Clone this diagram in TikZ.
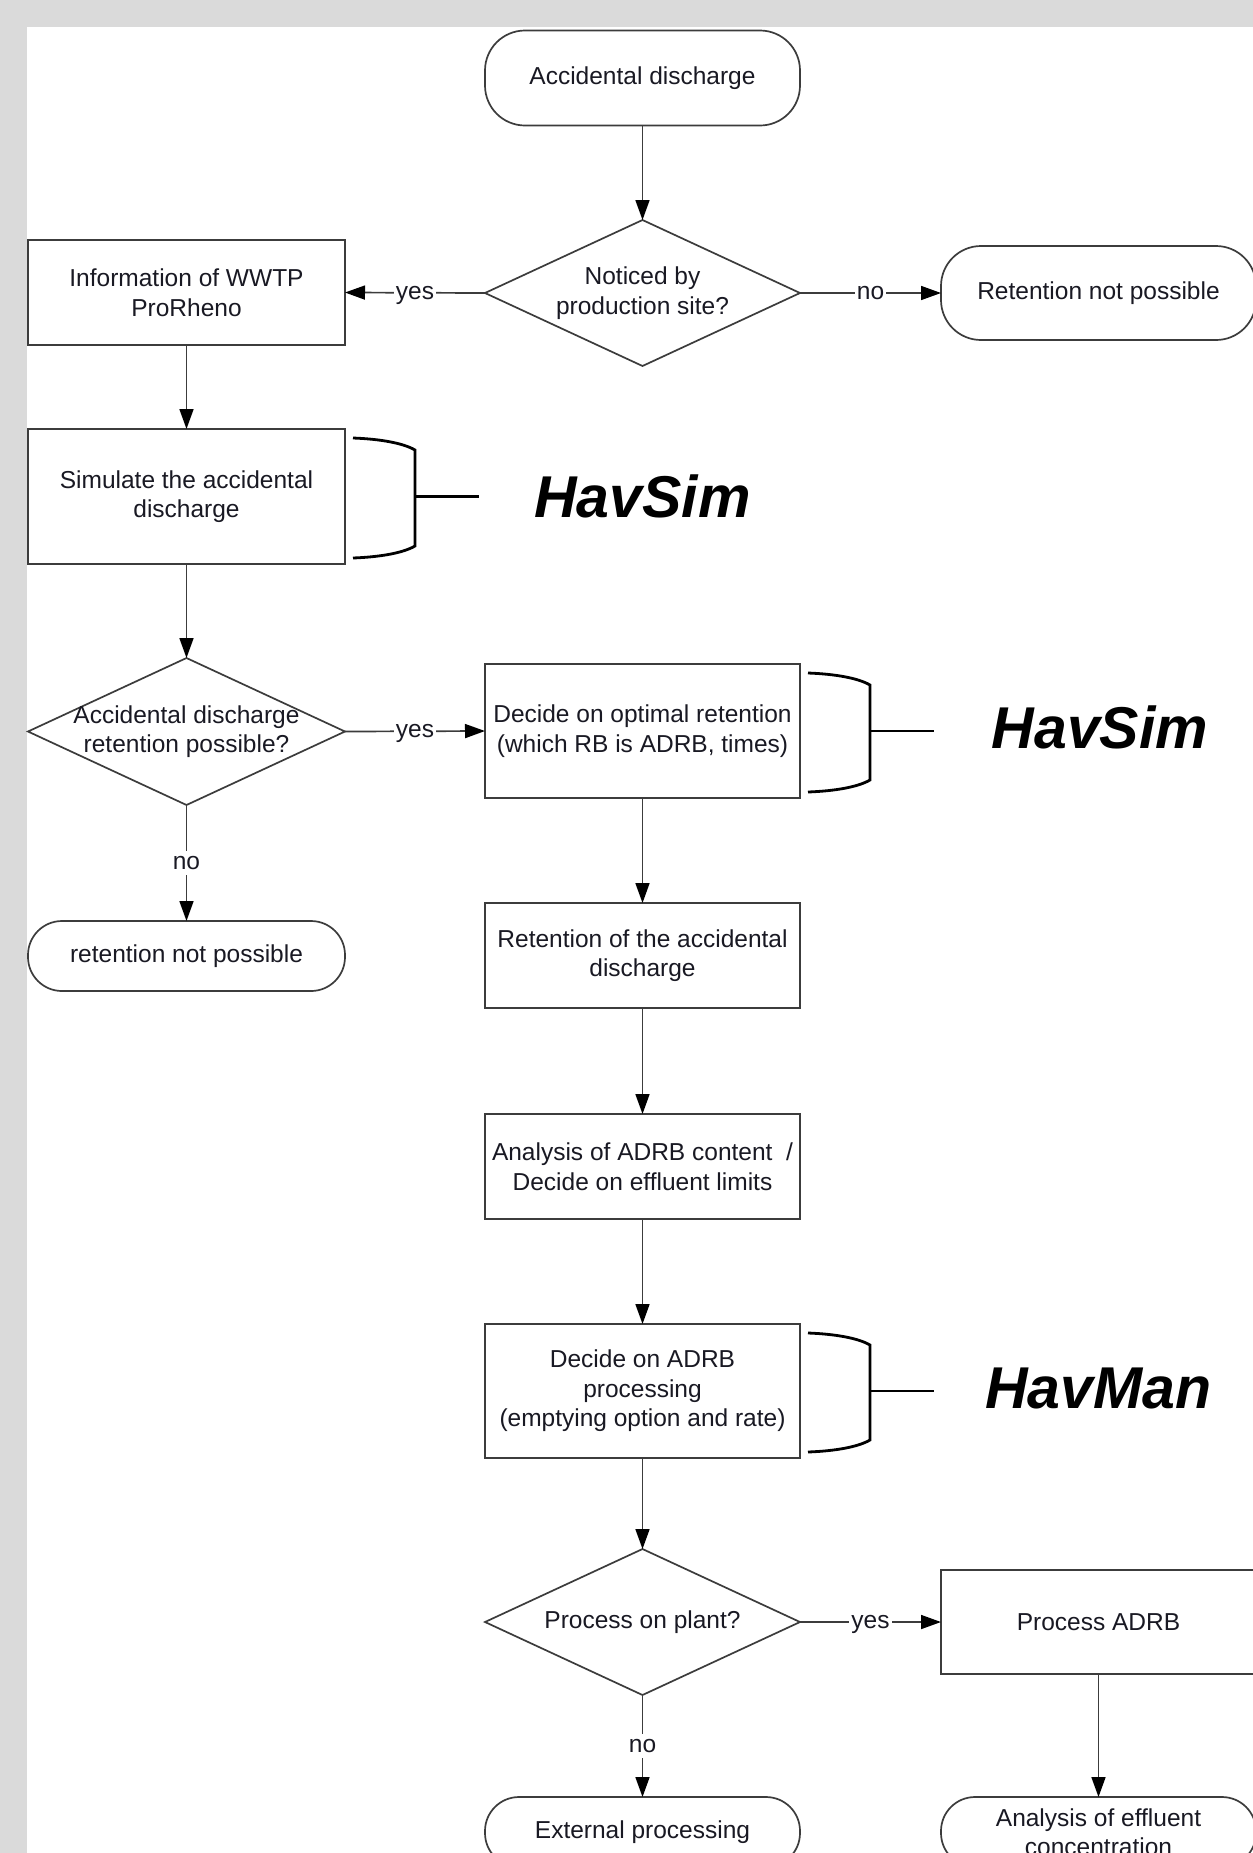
\documentclass[tikz,border=0pt]{standalone}
\usepackage{fontspec}
\setmainfont{Liberation Sans}
\usetikzlibrary{shapes.geometric,arrows.meta,calc}
\definecolor{bggray}{RGB}{218,218,218}
\definecolor{linegray}{RGB}{60,60,60}
\definecolor{txtcol}{RGB}{25,25,35}
\newcommand\toolbrace[1]{%
  \draw[brk] ($(#1.north east)+(8,9)$) .. controls +(27,1) and +(-12,-7) .. ($(#1.north east)+(70,21)$)
    -- ($(#1.south east)+(70,-18)$) .. controls +(-12,7) and +(27,-1) .. ($(#1.south east)+(8,-6)$);
  \draw[brk] ($(#1.east)+(70,0)$) -- ++(64,0);}
\begin{document}
\begin{tikzpicture}[x=1pt,y=-1pt,
  every node/.style={font=\fontsize{24.5}{29.5}\selectfont, text=txtcol, inner sep=0pt, outer sep=0pt},
  box/.style={draw=linegray, line width=1.7pt, rectangle, minimum width=315pt, align=center},
  term/.style={draw=linegray, line width=1.7pt, rectangle, rounded corners=#1, minimum width=315pt, align=center},
  term/.default=40pt,
  dia/.style={draw=linegray, line width=1.7pt, diamond, minimum width=315pt, minimum height=146pt},
  diatext/.style={align=center},
  conn/.style={draw=linegray, line width=1.7pt, -{Triangle[length=20pt,width=14pt,color=black]}},
  lbl/.style={fill=white, inner xsep=2pt, inner ysep=1pt, text height=17.6pt, text depth=4.9pt},
  brk/.style={draw=black, line width=2.8pt},
  tool/.style={font=\fontsize{59}{62}\selectfont\bfseries\itshape, text=black}
]
\useasboundingbox (0,0) rectangle (1253,1853);
\clip (0,0) rectangle (1253,1853);
\fill[bggray] (0,0) rectangle (1253,1853);
\fill[white] (27,27) rectangle (1253,1853);

% left column
\node[box, minimum width=317pt, minimum height=105pt] (info) at (186.5,292.5) {Information of WWTP\\ProRheno};
\node[box, minimum width=317pt, minimum height=135pt] (sim) at (186.5,496.5) {Simulate the accidental\\discharge};
\node[dia, minimum width=317pt, minimum height=147pt, label={[diatext]center:{Accidental discharge\\retention possible?}}] (d2) at (186.5,731.5) {};
\node[term=34pt, minimum width=317pt, minimum height=70pt] (rnp) at (186.5,956) {retention not possible};

% centre column
\node[term, minimum height=95pt] (t1) at (642.5,78) {Accidental discharge};
\node[dia, label={[diatext]center:{Noticed by\\production site?}}] (d1) at (642.5,293) {};
\node[box, minimum height=134pt] (dec) at (642.5,731) {Decide on optimal retention\\(which RB is ADRB, times)};
\node[box, minimum height=105pt] (ret) at (642.5,955.5) {Retention of the accidental\\discharge};
\node[box, minimum height=105pt] (ana) at (642.5,1166.5) {Analysis of ADRB content~~/\\Decide on effluent limits};
\node[box, minimum height=134pt] (dadrb) at (642.5,1391) {Decide on ADRB\\processing\\(emptying option and rate)};
\node[dia, label={[diatext]center:{Process on plant?}}] (d3) at (642.5,1622) {};
\node[term=34pt, minimum height=70pt] (ext) at (642.5,1832) {External processing};

% right column
\node[term, minimum height=94pt] (rt) at (1098.5,293) {Retention not possible};
\node[box, minimum height=104pt] (pad) at (1098.5,1622) {Process ADRB};
\node[term=34pt, minimum height=70pt] (aec) at (1098.5,1832) {Analysis of effluent\\concentration};

% tool labels
\node[tool, anchor=base] (hs1) at (642.5,517) {HavSim};
\node[tool, anchor=base] (hs2) at (1100,748) {HavSim};
\node[tool, anchor=base] (hm) at (1098.5,1408) {HavMan};

% braces
\toolbrace{sim}
\toolbrace{dec}
\toolbrace{dadrb}

% connectors
\draw[conn] (t1.south) -- (d1.north);
\draw[conn] (d1.west) -- node[lbl]{yes} (info.east);
\draw[conn] (d1.east) -- node[lbl]{no} (rt.west);
\draw[conn] (info.south) -- (sim.north);
\draw[conn] (sim.south) -- (d2.north);
\draw[conn] (d2.east) -- node[lbl]{yes} (dec.west);
\draw[conn] (d2.south) -- node[lbl]{no} (rnp.north);
\draw[conn] (dec.south) -- (ret.north);
\draw[conn] (ret.south) -- (ana.north);
\draw[conn] (ana.south) -- (dadrb.north);
\draw[conn] (dadrb.south) -- (d3.north);
\draw[conn] (d3.east) -- node[lbl]{yes} (pad.west);
\draw[conn] (d3.south) -- node[lbl]{no} (ext.north);
\draw[conn] (pad.south) -- (aec.north);
\end{tikzpicture}
\end{document}
